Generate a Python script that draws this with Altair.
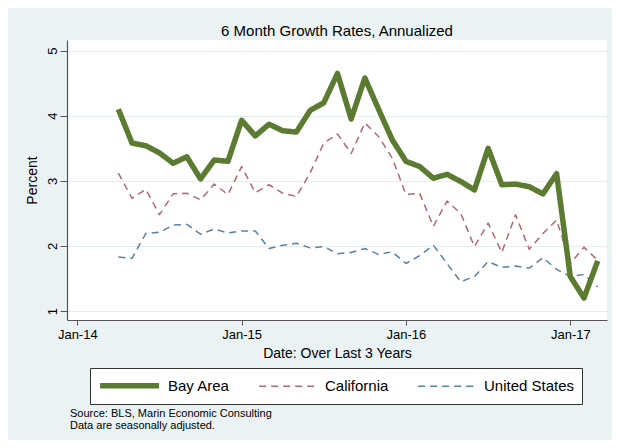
import altair as alt
import pandas as pd

# ---- data ----
months = pd.date_range("2014-04-01", periods=36, freq="MS")

bay_area = [4.10, 3.58, 3.54, 3.43, 3.27, 3.37, 3.03, 3.32, 3.30,
            3.93, 3.69, 3.87, 3.77, 3.75, 4.08, 4.20, 4.65, 3.95, 4.58, 4.10, 3.63,
            3.30, 3.22, 3.04, 3.10, 2.99, 2.86, 3.50, 2.94, 2.95, 2.91, 2.80, 3.11,
            1.53, 1.20, 1.77]
california = [3.12, 2.73, 2.87, 2.48, 2.80, 2.81, 2.71, 2.95, 2.79,
              3.22, 2.82, 2.94, 2.81, 2.76, 3.12, 3.58, 3.72, 3.42, 3.89, 3.68, 3.35,
              2.79, 2.81, 2.30, 2.69, 2.50, 1.99, 2.35, 1.90, 2.48, 1.95, 2.19, 2.40,
              1.73, 1.98, 1.78]
united_states = [1.83, 1.81, 2.19, 2.21, 2.32, 2.33, 2.18, 2.26, 2.20,
                 2.23, 2.23, 1.96, 2.01, 2.04, 1.97, 1.99, 1.88, 1.90, 1.96, 1.87, 1.91,
                 1.73, 1.85, 2.01, 1.73, 1.45, 1.53, 1.76, 1.67, 1.69, 1.66, 1.82, 1.64,
                 1.53, 1.56, 1.37]

series_names = ["Bay Area", "California", "United States"]
series_colors = ["#5B7B31", "#B3686F", "#5B80A5"]
series_dashes = [[1, 0], [7, 5], [7, 5]]
series_widths = [5.5, 1.5, 1.5]
y_ticks = [1, 2, 3, 4, 5]
x_tick_labels = ["Jan-14", "Jan-15", "Jan-16", "Jan-17"]
notes = ["Source: BLS, Marin Economic Consulting", "Data are seasonally adjusted."]

# ---- table (x = months since Jan 2014, like a monthly date axis) ----
month_index = [(d.year - 2014) * 12 + (d.month - 1) for d in months]
df = pd.DataFrame({
    "m": month_index * 3,
    "series": [series_names[0]] * 36 + [series_names[1]] * 36 + [series_names[2]] * 36,
    "value": bay_area + california + united_states,
})
notes_df = pd.DataFrame({"note": ["\n".join(notes)]})

FONT = "Liberation Sans"
label_array = "[" + ",".join(f"'{t}'" for t in x_tick_labels) + "]"

# wide line-shaped legend symbol: path spans -1..7 (scaled by sqrt(size)/2)
legend = alt.Legend(
    title=None, orient="none", legendX=23, legendY=328, direction="horizontal",
    symbolType="M-1,0H7", symbolSize=217, labelFontSize=15, labelFont=FONT,
    labelColor="black", labelOffset=50, columnPadding=26, padding=7,
    strokeColor="#333333", fillColor="white", labelLimit=200,
)

x_enc = alt.X(
    "m:Q",
    scale=alt.Scale(domain=[-0.75, 38.68], nice=False, zero=False),
    axis=alt.Axis(
        title="Date: Over Last 3 Years",
        values=[12 * i for i in range(len(x_tick_labels))],
        labelExpr=f"{label_array}[round(datum.value / 12)]",
        grid=False, tickSize=5, labelPadding=3,
        labelFontSize=13, titleFontSize=14, titlePadding=5,
    ),
)
y_enc = alt.Y(
    "value:Q",
    scale=alt.Scale(domain=[0.862, 5.164], nice=False, zero=False),
    axis=alt.Axis(
        title="Percent", values=y_ticks, labelAngle=270, labelAlign="center",
        labelBaseline="bottom", tickSize=7, labelPadding=1, grid=True,
        labelFontSize=13, titleFontSize=14, titlePadding=7,
    ),
)
color_enc = alt.Color("series:N", scale=alt.Scale(domain=series_names, range=series_colors), legend=legend)
dash_enc = alt.StrokeDash("series:N", scale=alt.Scale(domain=series_names, range=series_dashes), legend=legend)
width_enc = alt.StrokeWidth("series:N", scale=alt.Scale(type="ordinal", domain=series_names, range=series_widths), legend=legend)

base = alt.Chart(df).mark_line(strokeJoin="round", strokeCap="butt").encode(
    x=x_enc, y=y_enc, color=color_enc, strokeDash=dash_enc, strokeWidth=width_enc
)
others = base.transform_filter(alt.datum.series != "Bay Area")
bay = base.transform_filter(alt.datum.series == "Bay Area")

note_layer = alt.Chart(notes_df).mark_text(
    align="left", baseline="alphabetic", fontSize=11, font=FONT, color="black",
    lineBreak="\n", lineHeight=12,
).encode(x=alt.value(3), y=alt.value(377), text="note:N")

chart = alt.layer(others, bay, note_layer).properties(
    width=540, height=280,
    title=alt.Title("6 Month Growth Rates, Annualized", fontSize=15, font=FONT,
                    fontWeight="normal", color="black", anchor="middle",
                    frame="group", offset=1),
    autosize=alt.AutoSizeParams(type="none"),
    padding={"left": 59, "top": 32, "right": 5, "bottom": 120},
    background="#EAF2F3",
).configure_view(
    fill="white", strokeWidth=0
).configure_axis(
    labelFont=FONT, titleFont=FONT, labelColor="black", titleColor="black",
    titleFontWeight="normal", domainColor="#555555", domainWidth=1.2,
    tickColor="#555555", tickWidth=1, gridColor="#E4EEF0", gridWidth=1,
)

chart.save("out.html", embed_options={"renderer": "svg", "actions": False})
